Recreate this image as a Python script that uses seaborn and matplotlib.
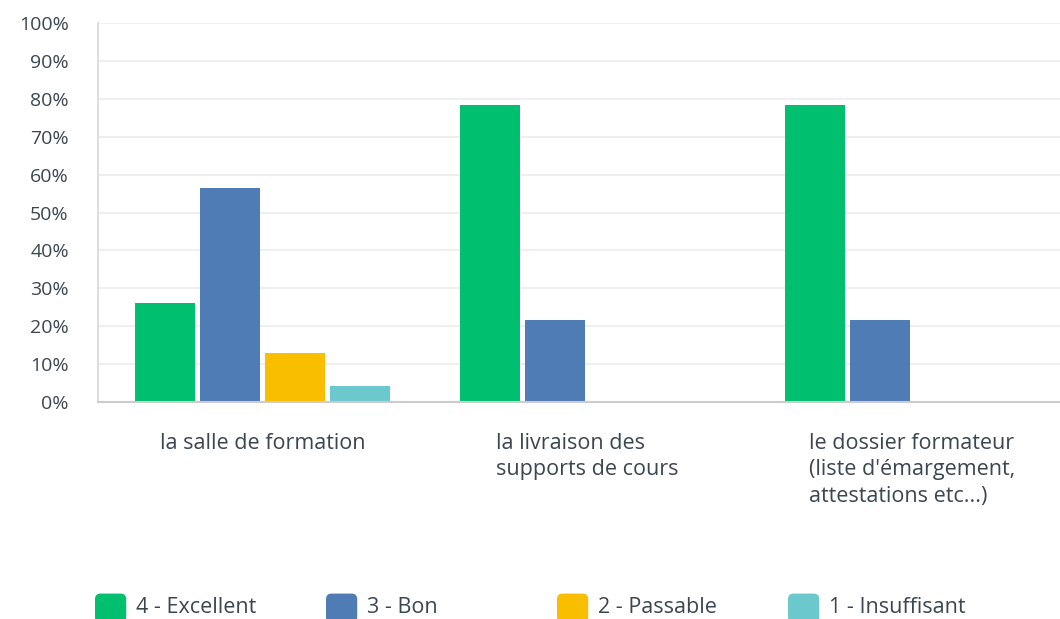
import pandas as pd
import numpy as np
import matplotlib.pyplot as plt
import seaborn as sns
from matplotlib.ticker import PercentFormatter
from matplotlib.legend_handler import HandlerPatch
from matplotlib.patches import FancyBboxPatch

# Données (23 répondants)
categories = [
    "la salle de formation",
    "la livraison des\nsupports de cours",
    "le dossier formateur\n(liste d'émargement,\nattestations etc...)",
]
niveaux = ["4 - Excellent", "3 - Bon", "2 - Passable", "1 - Insuffisant"]
excellent = [26.09, 78.26, 78.26]
bon = [56.52, 21.74, 21.74]
passable = [13.04, 0.0, 0.0]
insuffisant = [4.35, 0.0, 0.0]

couleurs = ["#00BF6F", "#507CB6", "#F9BE00", "#6BC8CD"]

df = pd.DataFrame({
    "categorie": np.repeat(categories, len(niveaux)),
    "niveau": niveaux * len(categories),
    "valeur": np.column_stack([excellent, bon, passable, insuffisant]).ravel(),
})


class HandlerCarreArrondi(HandlerPatch):
    # carré aux coins arrondis pour la légende
    def create_artists(self, legend, orig_handle, xdescent, ydescent,
                       width, height, fontsize, trans):
        p = FancyBboxPatch((-xdescent, -ydescent - 3), width, height + 3,
                           boxstyle="round,pad=0,rounding_size=4",
                           facecolor=orig_handle.get_facecolor(), edgecolor="none",
                           transform=trans)
        return [p]


sns.set_theme(style="white")
plt.rcParams["font.family"] = ["Open Sans", "DejaVu Sans"]

fig = plt.figure(figsize=(10.6, 6.19), dpi=100)
ax = fig.add_axes([98 / 1060, 217 / 619, 962 / 1060, 379 / 619])

sns.barplot(data=df, x="categorie", y="valeur", hue="niveau", order=categories,
            hue_order=niveaux, palette=couleurs, saturation=1, width=0.8, gap=0.08,
            edgecolor="none", linewidth=0, ax=ax)

ax.set_ylim(0, 100)
decal = 2 / 325
ax.set_xlim(-0.5 - decal, -0.5 - decal + 962 / 325)
ax.set_yticks(np.arange(0, 101, 10))
ax.yaxis.set_major_formatter(PercentFormatter(decimals=0))
ax.grid(axis="y", color="#ececec", linewidth=1.2)
ax.set_axisbelow(True)
ax.set_xlabel("")
ax.set_ylabel("")

for side in ["top", "right"]:
    ax.spines[side].set_visible(False)
ax.spines["left"].set_color("#d9d9d9")
ax.spines["bottom"].set_color("#cccccc")
ax.spines["bottom"].set_linewidth(1.5)

ax.tick_params(axis="y", length=0, pad=21, labelsize=14, labelcolor="#3b4650")
ax.tick_params(axis="x", length=0, pad=22, labelsize=15.5, labelcolor="#3b4650")
for lbl in ax.get_xticklabels():
    lbl.set_multialignment("left")
    lbl.set_verticalalignment("top")
    lbl.set_linespacing(1.35)

# Légende : une entrée par colonne, espacement régulier
handles, labels = ax.get_legend_handles_labels()
ax.get_legend().remove()
positions_x = [95, 326, 557, 788]
for h, l, px in zip(handles, labels, positions_x):
    leg = fig.legend([h], [l], loc="center left", bbox_to_anchor=(px / 1060, 1 - 606 / 619),
                     frameon=False, fontsize=15.5, handlelength=1.45, handleheight=1.4,
                     handletextpad=0.45, borderaxespad=0, borderpad=0,
                     handler_map={type(h): HandlerCarreArrondi()})
    for t in leg.get_texts():
        t.set_color("#3b4650")

fig.savefig("out.png", dpi=100)
plt.close(fig)
